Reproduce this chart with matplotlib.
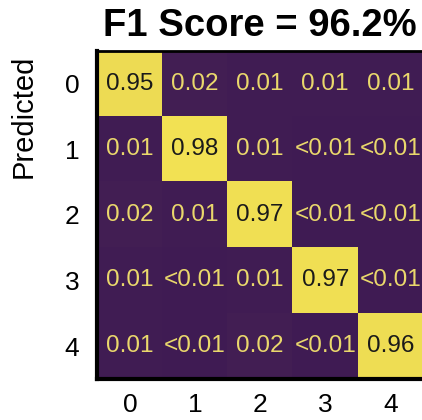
import numpy as np
import matplotlib
matplotlib.use('Agg')
import matplotlib.pyplot as plt
from matplotlib.colors import LinearSegmentedColormap

plt.rcParams['font.family'] = ['Liberation Sans', 'DejaVu Sans']

classes = ['0', '1', '2', '3', '4']
# cell text as printed, rows = predicted class
cell_text = [
    ['0.95', '0.02', '0.01', '0.01', '0.01'],
    ['0.01', '0.98', '0.01', '<0.01', '<0.01'],
    ['0.02', '0.01', '0.97', '<0.01', '<0.01'],
    ['0.01', '<0.01', '0.01', '0.97', '<0.01'],
    ['0.01', '<0.01', '0.02', '<0.01', '0.96'],
]
# numeric values (<0.01 taken as 0.005)
values = np.array([
    [0.95, 0.02, 0.01, 0.01, 0.01],
    [0.01, 0.98, 0.01, 0.005, 0.005],
    [0.02, 0.01, 0.97, 0.005, 0.005],
    [0.01, 0.005, 0.01, 0.97, 0.005],
    [0.01, 0.005, 0.02, 0.005, 0.96],
])
f1_score = 96.2

cmap = LinearSegmentedColormap.from_list('pv', ['#3f1b53', '#f6e554'])

fig = plt.figure(figsize=(4.22, 4.20), dpi=100)
ax = fig.add_axes([0.231, 0.098, 0.771, 0.781])
ax.imshow(values, cmap=cmap, vmin=0, vmax=1, aspect='auto')

for i in range(len(classes)):
    for j in range(len(classes)):
        dark = values[i, j] > 0.5
        ax.text(j, i, cell_text[i][j], ha='center', va='center', fontsize=17.5,
                color='#1a1a1a' if dark else '#ead86c')

ax.set_xticks(range(len(classes)))
ax.set_yticks(range(len(classes)))
ax.set_xticklabels(classes, fontsize=19)
ax.set_yticklabels(classes, fontsize=19)
ax.tick_params(length=0)
ax.tick_params(axis='x', pad=10)
ax.tick_params(axis='y', pad=13)

for side in ['left', 'bottom']:
    ax.spines[side].set_linewidth(3)
ax.spines['top'].set_linewidth(2)
ax.spines['right'].set_visible(False)

ax.set_ylabel('Predicted', fontsize=21)
ax.yaxis.set_label_coords(-0.185, 0.80)
ax.set_title('F1 Score = %.1f%%' % f1_score, fontsize=27.5, fontweight='bold', pad=11)

fig.savefig('out.png', dpi=100)
